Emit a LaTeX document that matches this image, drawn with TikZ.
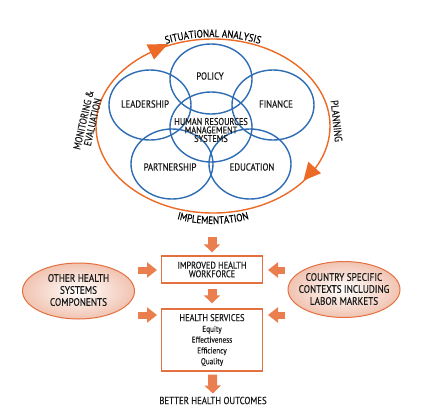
\documentclass[tikz,border=0pt]{standalone}
\usepackage{fontspec}
\setmainfont{PT Sans}[FakeStretch=0.85,FakeBold=0.4]
\usetikzlibrary{arrows.meta,decorations.text,shapes.geometric}
\definecolor{cblue}{HTML}{2E6DB4}
\definecolor{corange}{HTML}{EC6A25}
\definecolor{cbox}{HTML}{E5703F}
\definecolor{carrow}{HTML}{EA7E4E}
\definecolor{cpeach}{HTML}{F1C3B1}
\definecolor{ctext}{HTML}{1A1A1A}
\newcommand{\lblfont}{\fontsize{10.3}{11}\selectfont}
\newcommand{\arcfont}{\fontsize{10.7}{11}\selectfont}
\begin{document}
\begin{tikzpicture}[x=1pt,y=-1pt,
  loopshape/.style={ellipse, draw=corange, line width=1.4pt, minimum width=234pt, minimum height=174pt, inner sep=0pt},
  ring/.style={ellipse, draw=cblue, line width=1.4pt, minimum width=82pt, minimum height=70pt, inner sep=0pt},
  lbl/.style={font=\lblfont, text=ctext, inner sep=1pt},
  boxnode/.style={draw=cbox, line width=1.3pt, fill=white, minimum width=101pt, inner sep=0pt, align=center, text=ctext},
  ctxshape/.style={ellipse, draw=cbox, line width=1pt, inner color=white, outer color=cpeach, minimum width=112pt, minimum height=56pt, inner sep=0pt},
  ctxtext/.style={align=center, font=\fontsize{10.8}{12}\selectfont, text=ctext, inner sep=0pt},
  vblk/.style={draw=carrow, line width=9pt, -{Triangle[width=16pt,length=8pt]}},
  hblk/.style={draw=carrow, line width=7pt, -{Triangle[width=15pt,length=10pt]}}
]
\fill[white] (0,0) rectangle (428,413);
\useasboundingbox (0,0) rectangle (428,413);

% cycle
\node[loopshape] (loop) at (213,126) {};
\fill[corange] (168,44) -- (146.5,44.5) -- (154,59.5) -- cycle;
\fill[corange] (303.5,180.5) -- (308.3,161.7) -- (321,173.3) -- cycle;

% circles
\node[ring] (policy) at (211,79) {};
\node[ring] (lead) at (150,105) {};
\node[ring] (fin) at (273,105) {};
\node[ring] (hrm) at (211,127) {};
\node[ring] (part) at (172,164) {};
\node[ring] (edu) at (250,164) {};

\node[lbl] (tpolicy) at (210,76) {POLICY};
\node[lbl] (tlead) at (145,104) {LEADERSHIP};
\node[lbl] (tfin) at (276,104) {FINANCE};
\node[lbl] (tpart) at (170,167) {PARTNERSHIP};
\node[lbl] (tedu) at (252,167) {EDUCATION};
\node[lbl, align=center, font=\fontsize{9.8}{8.5}\selectfont] (thrm) at (211,130) {HUMAN RESOURCES\\MANAGEMENT\\SYSTEMS};

% cycle labels
\path[decorate, decoration={text along path, text={|\arcfont|SITUATIONAL ANALYSIS}, text align=center}]
  ({213+121*cos(215)},{126+89*sin(215)}) arc[start angle=215, end angle=325, x radius=121, y radius=89];
\path[decorate, decoration={text along path, text={|\arcfont|IMPLEMENTATION}, text align=center}]
  ({213+115*cos(125)},{126+98*sin(125)}) arc[start angle=125, end angle=55, x radius=115, y radius=98];
\node[lbl, font=\arcfont, rotate=-84] (tplan) at (336.5,121) {PLANNING};
\node[lbl, rotate=77, align=center, font=\fontsize{10.3}{9.5}\selectfont] (tme) at (88,121) {MONITORING \&\\EVALUATION};

% lower part
\node[boxnode, minimum height=27pt, font=\fontsize{9.8}{8.6}\selectfont] (wf) at (212,269.5) {IMPROVED HEALTH\\WORKFORCE};
\node[boxnode, minimum height=62pt, font=\fontsize{8.5}{10.8}\selectfont] (hs) at (212,340) {{\fontsize{9.8}{10.8}\selectfont HEALTH SERVICES}\\Equity\\Effectiveness\\Efficiency\\Quality};
\node[lbl] (out) at (213,400.5) {BETTER HEALTH OUTCOMES};

\node[ctxshape] (lctx) at (78.5,291) {};
\node[ctxtext] (lctxt) at (78.5,290) {OTHER HEALTH\\SYSTEMS\\COMPONENTS};
\node[ctxshape] (rctx) at (344,289.5) {};
\node[ctxtext] (rctxt) at (344,289) {COUNTRY SPECIFIC\\CONTEXTS INCLUDING\\LABOR MARKETS};

\coordinate (src) at (212,237);
\coordinate (la1) at (157,270);
\coordinate (la2) at (157,315);
\coordinate (ra1) at (268,270);
\coordinate (ra2) at (268,315);

\draw[vblk, shorten >=3pt] (src) -- (wf);
\draw[vblk, shorten <=5pt, shorten >=5pt] (wf) -- (hs);
\draw[vblk, shorten <=3pt, shorten >=2pt] (hs) -- (out);
\draw[hblk, shorten <=3pt] (lctx.east |- la1) -- (la1);
\draw[hblk, shorten <=3pt] (lctx.east |- la2) -- (la2);
\draw[hblk, shorten <=3pt] (rctx.west |- ra1) -- (ra1);
\draw[hblk, shorten <=3pt] (rctx.west |- ra2) -- (ra2);
\end{tikzpicture}
\end{document}
